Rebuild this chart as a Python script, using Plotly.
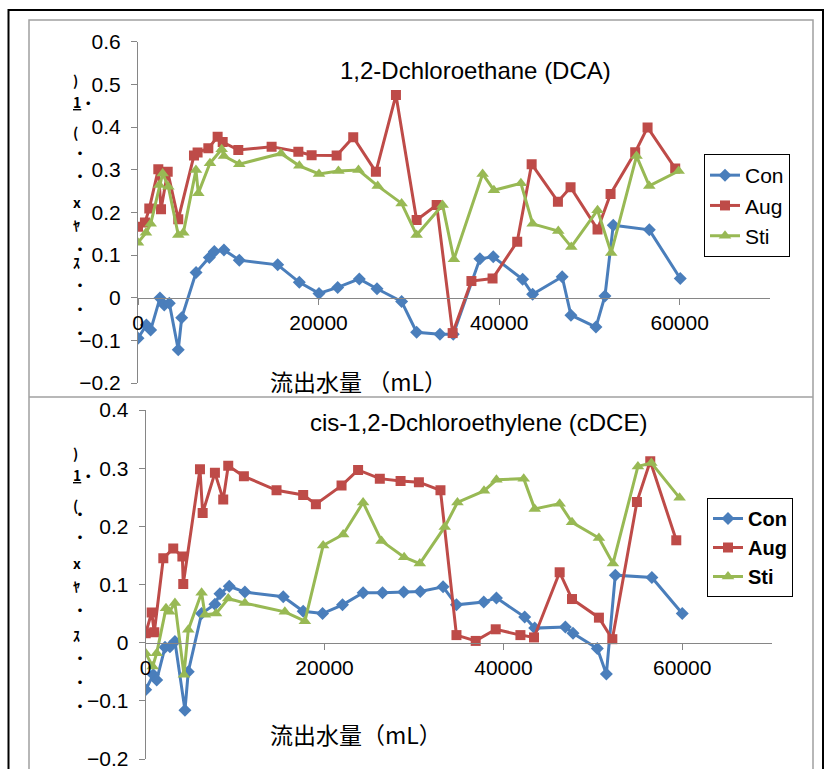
import plotly.graph_objects as go

# ---------------- data ----------------
x_dca_con = [0, 930, 1400, 2430, 2910, 3470, 4460, 4840, 6430, 7900, 8450, 9520, 11220, 15470, 17870, 20050, 22120, 24510, 26470, 29200, 30860, 33440, 34920, 37870, 39350, 42600, 43710, 46980, 47950, 50720, 51720, 52640, 56630, 60060]
y_dca_con = [-0.095, -0.064, -0.076, -0.001, -0.017, -0.013, -0.122, -0.047, 0.059, 0.094, 0.108, 0.112, 0.088, 0.077, 0.036, 0.010, 0.024, 0.044, 0.021, -0.009, -0.081, -0.086, -0.086, 0.091, 0.096, 0.043, 0.008, 0.049, -0.041, -0.069, 0.004, 0.170, 0.159, 0.045]

x_dca_aug = [0, 770, 1250, 2250, 2550, 3290, 4460, 6200, 6600, 7790, 8820, 9380, 11110, 14800, 17760, 19230, 22000, 23840, 26350, 28570, 30860, 33080, 34850, 36930, 39270, 42000, 43600, 46510, 47910, 50900, 52340, 55070, 56440, 59500]
y_dca_aug = [0.166, 0.176, 0.209, 0.301, 0.207, 0.295, 0.184, 0.333, 0.340, 0.350, 0.377, 0.365, 0.346, 0.354, 0.342, 0.334, 0.333, 0.376, 0.295, 0.475, 0.182, 0.217, -0.083, 0.039, 0.045, 0.131, 0.313, 0.225, 0.259, 0.160, 0.243, 0.341, 0.399, 0.303]

x_dca_sti = [0, 880, 1400, 2360, 2730, 3360, 4460, 5020, 6420, 6680, 7970, 9270, 9520, 11220, 15840, 17870, 20050, 22200, 24420, 26550, 29200, 30860, 33740, 34990, 38170, 39420, 42410, 43710, 46550, 47990, 50900, 52410, 55220, 56630, 59880]
y_dca_sti = [0.129, 0.152, 0.173, 0.264, 0.291, 0.260, 0.147, 0.152, 0.299, 0.245, 0.315, 0.348, 0.332, 0.313, 0.338, 0.309, 0.290, 0.297, 0.299, 0.262, 0.221, 0.147, 0.217, 0.090, 0.290, 0.252, 0.268, 0.173, 0.156, 0.119, 0.205, 0.105, 0.332, 0.262, 0.297]

x_cdce_con = [0, 850, 1230, 2160, 2710, 3270, 4390, 4760, 6250, 7740, 8300, 9340, 11090, 15380, 17610, 19780, 22010, 24310, 26480, 28850, 30700, 33250, 34750, 37800, 39220, 42380, 43500, 46930, 47780, 50500, 51510, 52510, 56600, 60000]
y_cdce_con = [-0.081, -0.055, -0.064, -0.008, -0.007, 0.002, -0.116, -0.050, 0.050, 0.066, 0.084, 0.097, 0.087, 0.079, 0.054, 0.050, 0.065, 0.086, 0.086, 0.087, 0.088, 0.096, 0.065, 0.070, 0.077, 0.044, 0.025, 0.027, 0.016, -0.010, -0.054, 0.116, 0.112, 0.050]

x_cdce_aug = [0, 670, 960, 1970, 3080, 4100, 4200, 6070, 6370, 7740, 8670, 9230, 10980, 14630, 17610, 19030, 21900, 23750, 26180, 28500, 30550, 32960, 34750, 36900, 39140, 41900, 43420, 46290, 47670, 50680, 52180, 54930, 56420, 59330]
y_cdce_aug = [0.016, 0.052, 0.018, 0.145, 0.162, 0.148, 0.101, 0.298, 0.223, 0.292, 0.246, 0.304, 0.286, 0.262, 0.254, 0.238, 0.270, 0.297, 0.282, 0.278, 0.276, 0.262, 0.013, 0.003, 0.023, 0.013, 0.009, 0.121, 0.075, 0.043, 0.006, 0.242, 0.312, 0.176]

x_cdce_sti = [0, 780, 1230, 2270, 2640, 3270, 4280, 4760, 6250, 6630, 7860, 9230, 11090, 15560, 17800, 19840, 22080, 24310, 26370, 28900, 30650, 33440, 34860, 37830, 39220, 42270, 43500, 46290, 47670, 50680, 52250, 55040, 56540, 59700]
y_cdce_sti = [-0.018, -0.041, -0.018, 0.059, 0.053, 0.068, -0.055, 0.022, 0.086, 0.048, 0.050, 0.076, 0.068, 0.053, 0.037, 0.167, 0.186, 0.241, 0.175, 0.147, 0.136, 0.199, 0.241, 0.261, 0.280, 0.282, 0.230, 0.239, 0.207, 0.180, 0.136, 0.303, 0.309, 0.249]

series_names = ["Con", "Aug", "Sti"]
x_ticks = [0, 20000, 40000, 60000]
title_top = "1,2-Dchloroethane (DCA)"
title_bottom = "cis-1,2-Dchloroethylene (cDCE)"
xtitle_top = "流出水量 （mL）"
xtitle_bottom = "流出水量（mL）"
ytitle_chars = [")", "<u>1</u>・", "(", "・", "・", "x", "ﾔ", "・", "ｽ", "・", "・", "・"]

# ---------------- style ----------------
W, H = 826, 769
colors = ["#4A7EBB", "#BE4B48", "#98B954"]
symbols = ["diamond", "square", "triangle-up"]
msizes = [10, 10, 11]
AXC = "#868686"
FONT = "Liberation Sans, Arial, sans-serif"
JFONT = "Noto Sans CJK JP, sans-serif"

def px(x):
    return x / W

def py(y):
    return 1 - y / H

fig = go.Figure()

top = [(x_dca_con, y_dca_con), (x_dca_aug, y_dca_aug), (x_dca_sti, y_dca_sti)]
bot = [(x_cdce_con, y_cdce_con), (x_cdce_aug, y_cdce_aug), (x_cdce_sti, y_cdce_sti)]

for i, (xs, ys) in enumerate(top):
    fig.add_trace(go.Scatter(x=xs, y=ys, name=series_names[i], mode="lines+markers",
                             line=dict(color=colors[i], width=3),
                             marker=dict(symbol=symbols[i], size=msizes[i], color=colors[i]),
                             xaxis="x", yaxis="y", legend="legend"))
for i, (xs, ys) in enumerate(bot):
    fig.add_trace(go.Scatter(x=xs, y=ys, name=series_names[i], mode="lines+markers",
                             line=dict(color=colors[i], width=3),
                             marker=dict(symbol=symbols[i], size=msizes[i], color=colors[i]),
                             xaxis="x2", yaxis="y2", legend="legend2"))

yd_top = [py(383), py(41.7)]
yd_bot = [py(759), py(410)]
x_common = dict(range=[0, 70000], tickvals=x_ticks, tickformat="d", showgrid=False,
                zeroline=False, showline=True, linecolor=AXC, linewidth=1,
                ticks="outside", ticklen=6, tickcolor=AXC, ticklabeloverflow="allow",
                tickfont=dict(family=FONT, size=21, color="black"), anchor="free")
y_common = dict(dtick=0.1, showgrid=False, zeroline=False, showline=True, linecolor=AXC,
                linewidth=1, ticks="outside", ticklen=6, tickcolor=AXC, ticklabeloverflow="allow",
                tickfont=dict(family=FONT, size=21, color="black"), ticklabelstandoff=6)

fig.update_layout(
    width=W, height=H, margin=dict(l=0, r=0, t=0, b=0, autoexpand=False),
    paper_bgcolor="white", plot_bgcolor="rgba(0,0,0,0)",
    xaxis=dict(domain=[px(138), px(770)], position=py(297.7), **x_common),
    yaxis=dict(domain=yd_top, range=[-0.2, 0.6], anchor="x", **y_common),
    xaxis2=dict(domain=[px(145.7), px(771.7)], position=py(642.7), **x_common),
    yaxis2=dict(domain=yd_bot, range=[-0.2, 0.4], anchor="x2", **y_common),
    legend=dict(x=px(704), y=py(154), xanchor="left", yanchor="top",
                bordercolor="black", borderwidth=1, bgcolor="white",
                font=dict(family=FONT, size=21, color="black")),
    legend2=dict(x=px(707), y=py(498), xanchor="left", yanchor="top",
                 bordercolor="black", borderwidth=1, bgcolor="white",
                 font=dict(family=FONT, size=20, color="black", weight="bold")),
)

shapes = [
    dict(type="rect", xref="paper", yref="paper", x0=px(29), x1=px(813), y0=py(800), y1=py(20),
         line=dict(color="#A0A0A0", width=1.5), layer="below"),
    dict(type="line", xref="paper", yref="paper", x0=px(29), x1=px(813), y0=py(397), y1=py(397),
         line=dict(color="#A0A0A0", width=1.5), layer="below"),
    dict(type="rect", xref="paper", yref="paper", x0=px(8.5), x1=px(823), y0=py(800), y1=py(10),
         line=dict(color="black", width=2), layer="below"),
]
fig.update_layout(shapes=shapes)

ann = []
ann.append(dict(text=title_top, x=px(475), y=py(55), xref="paper", yref="paper",
                showarrow=False, font=dict(family=FONT, size=24, color="black")))
ann.append(dict(text=title_bottom, x=px(479), y=py(422), xref="paper", yref="paper",
                showarrow=False, font=dict(family=FONT, size=24, color="black")))
ann.append(dict(text=xtitle_top, x=px(268), y=py(381), xref="paper", yref="paper", xanchor="left",
                showarrow=False, font=dict(family=JFONT, size=23, color="black")))
ann.append(dict(text=xtitle_bottom, x=px(268), y=py(753), xref="paper", yref="paper", xanchor="left",
                showarrow=False, font=dict(family=JFONT, size=23, color="black")))
ypos_top = [68, 90, 120, 140, 163, 190, 213, 236, 262, 284, 308, 332]
for ch, yy in zip(ytitle_chars, ypos_top):
    for off in (0, 385):
        ann.append(dict(text=ch, x=px(71), y=py(yy + off), xref="paper", yref="paper",
                        showarrow=False, font=dict(family=JFONT, size=14, color="black", weight="bold")))
fig.update_layout(annotations=ann)

fig.write_html("out.html", config={"displayModeBar": False},
               post_script="document.body.style.margin='0px';document.body.style.overflow='hidden';")
